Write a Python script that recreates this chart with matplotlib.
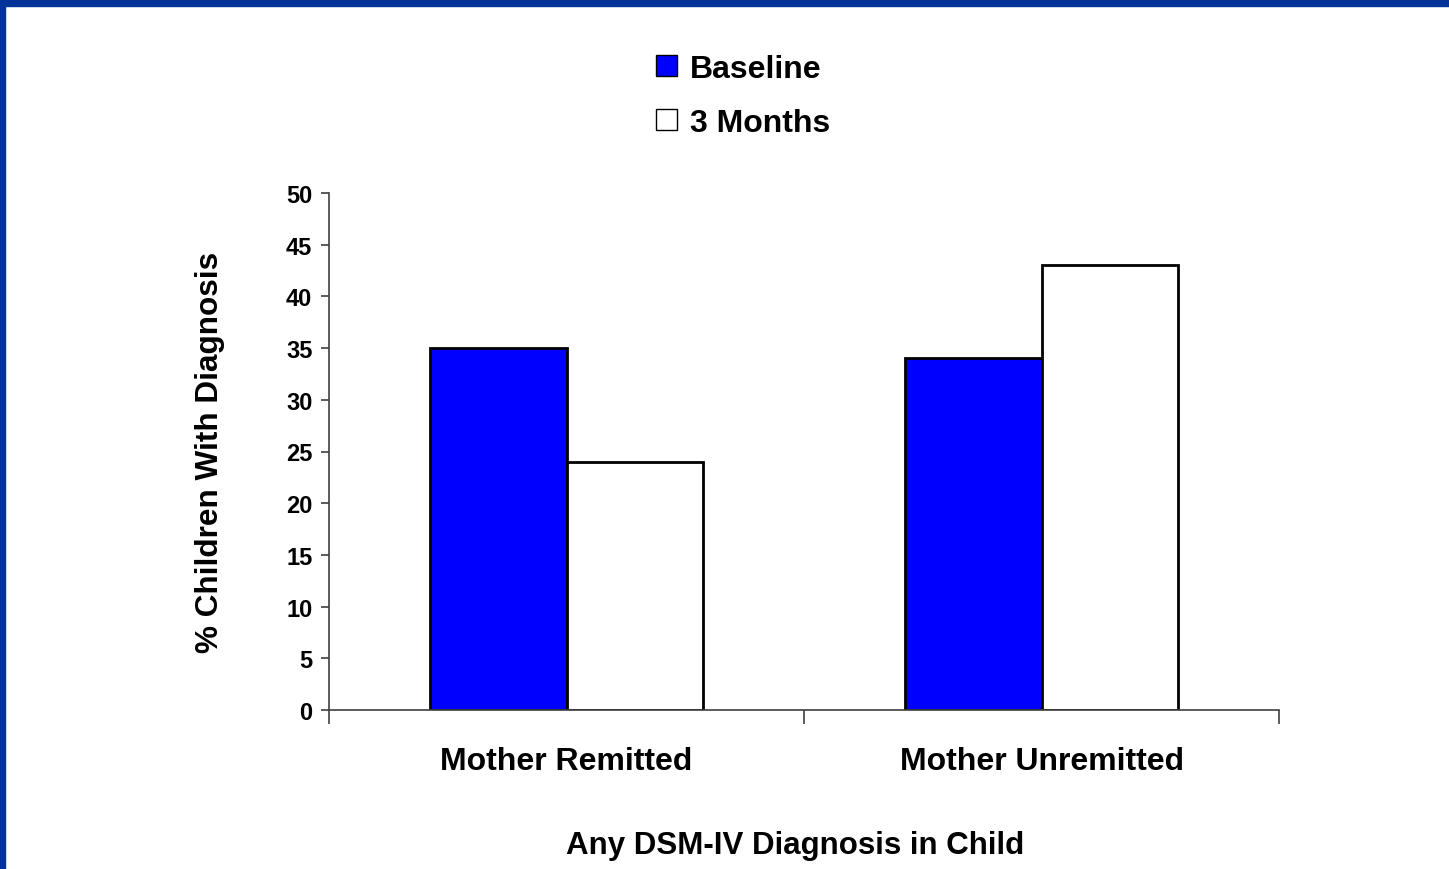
import matplotlib.pyplot as plt
import numpy as np
from matplotlib.patches import Rectangle, Patch

plt.rcParams['font.family'] = ['Liberation Sans', 'DejaVu Sans']
plt.rcParams['font.weight'] = 'bold'

# data
groups = ['Mother Remitted', 'Mother Unremitted']
baseline = [35, 34]
three_months = [24, 43]
series_names = ['Baseline', '3 Months']
yticks = [0, 5, 10, 15, 20, 25, 30, 35, 40, 45, 50]

fig = plt.figure(figsize=(14.49, 8.7), dpi=100)
ax = fig.add_axes([329 / 1449, 1 - 711 / 870, 950 / 1449, 517 / 870])

x = np.arange(len(groups))
w = 0.288
ax.bar(x - w / 2, baseline, w, color='#0000ff', edgecolor='black', linewidth=2)
ax.bar(x + w / 2, three_months, w, color='white', edgecolor='black', linewidth=2)

ax.set_xlim(-0.5, 1.5)
ax.set_ylim(0, 50)
ax.set_yticks(yticks)
ax.set_yticklabels([str(v) for v in yticks], fontsize=17, fontweight='bold')
ax.set_xticks([-0.5, 0.5, 1.5])
ax.set_xticklabels([])
ax.tick_params(axis='x', length=10, width=1.2, color='#404040')
ax.tick_params(axis='y', length=6, width=1.2, color='#404040', pad=6)
for s in ['top', 'right']:
    ax.spines[s].set_visible(False)
for s in ['left', 'bottom']:
    ax.spines[s].set_color('#404040')
    ax.spines[s].set_linewidth(1.2)

for i, g in enumerate(groups):
    ax.text(x[i], -4.9, g, ha='center', va='center', fontsize=23, fontweight='bold')
ax.text(0.481, -13.1, 'Any DSM-IV Diagnosis in Child', ha='center', va='center',
        fontsize=22.5, fontweight='bold')
ax.set_ylabel('% Children With Diagnosis', fontsize=22.7, fontweight='bold', labelpad=44)

handles = [Patch(facecolor='#0000ff', edgecolor='black', linewidth=1, label=series_names[0]),
           Patch(facecolor='white', edgecolor='black', linewidth=1, label=series_names[1])]
fig.legend(handles=handles, loc='center', bbox_to_anchor=(743 / 1449, 1 - 97 / 870),
           frameon=False, fontsize=23, handlelength=0.65, handleheight=0.65,
           handletextpad=0.4, labelspacing=0.75)

# blue slide border (top and left)
fig.patches.append(Rectangle((0, 1 - 7 / 870), 1, 7 / 870, transform=fig.transFigure,
                             color='#003399', zorder=10))
fig.patches.append(Rectangle((0, 0), 5 / 1449, 1, transform=fig.transFigure,
                             color='#003399', zorder=10))

fig.savefig('out.png', dpi=100)
